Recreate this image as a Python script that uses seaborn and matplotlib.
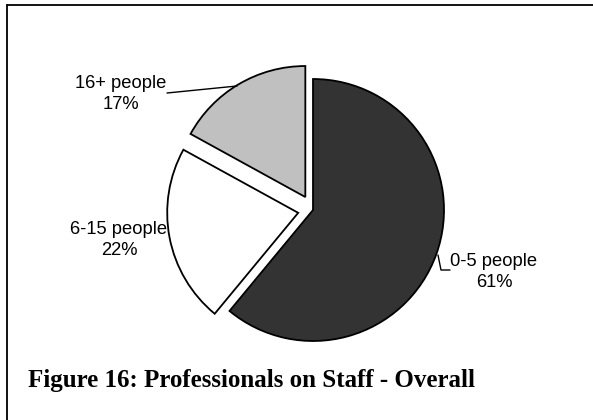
import matplotlib
matplotlib.use("Agg")
import matplotlib.pyplot as plt
import seaborn as sns

sns.set_theme(style="white")
plt.rcParams['font.family'] = ['Liberation Sans', 'DejaVu Sans']

categories = ["0-5 people", "6-15 people", "16+ people"]
values = [61, 22, 17]
pct_labels = ["61%", "22%", "17%"]
colors = ["#333333", "#ffffff", "#c0c0c0"]
explode = [0.0, 0.115, 0.115]
caption = "Figure 16: Professionals on Staff - Overall"

W, H = 593, 420
CX, CY, R = 313, 210, 131  # pie centre and radius in pixels (top-left origin)

fig = plt.figure(figsize=(W / 100, H / 100), dpi=100)
ax = fig.add_axes([0, 0, 1, 1])


def px(x, y):
    return ((x - CX) / R, (CY - y) / R)


ax.pie(values, colors=colors, explode=explode, startangle=90, counterclock=False,
       radius=1.0, center=(0, 0),
       wedgeprops=dict(edgecolor="black", linewidth=1.3))
ax.set_xlim(-CX / R, (W - CX) / R)
ax.set_ylim(-(H - CY) / R, CY / R)
ax.set_aspect("auto")
ax.axis("off")

# slice labels
label_pos = {"16+ people": (121, 94), "6-15 people": (119, 240), "0-5 people": (494, 272)}
for cat, pct in zip(categories, pct_labels):
    x, y = label_pos[cat]
    ax.text(*px(x, y), f"{cat}\n{pct}", ha="center", va="center", fontsize=13.2,
            color="black", linespacing=1.38)

# leader lines
l1 = [px(167, 93), px(237, 86)]
ax.plot([p[0] for p in l1], [p[1] for p in l1], color="black", lw=1.0)
l2 = [px(438, 255), px(441, 270), px(450, 270)]
ax.plot([p[0] for p in l2], [p[1] for p in l2], color="black", lw=1.0)

# caption
fig.text(28 / W, 1 - 381 / H, caption, ha="left", va="center", fontsize=18,
         fontweight="bold", family=["Liberation Serif", "DejaVu Serif"], color="black")

# border lines (top and left)
fig.add_artist(plt.Line2D([6.5 / W, 1], [1 - 4.5 / H, 1 - 4.5 / H],
                          transform=fig.transFigure, color="black", lw=1.3))
fig.add_artist(plt.Line2D([6.5 / W, 6.5 / W], [0, 1 - 4.5 / H],
                          transform=fig.transFigure, color="black", lw=1.3))

fig.savefig("out.png", dpi=100, facecolor="white")
